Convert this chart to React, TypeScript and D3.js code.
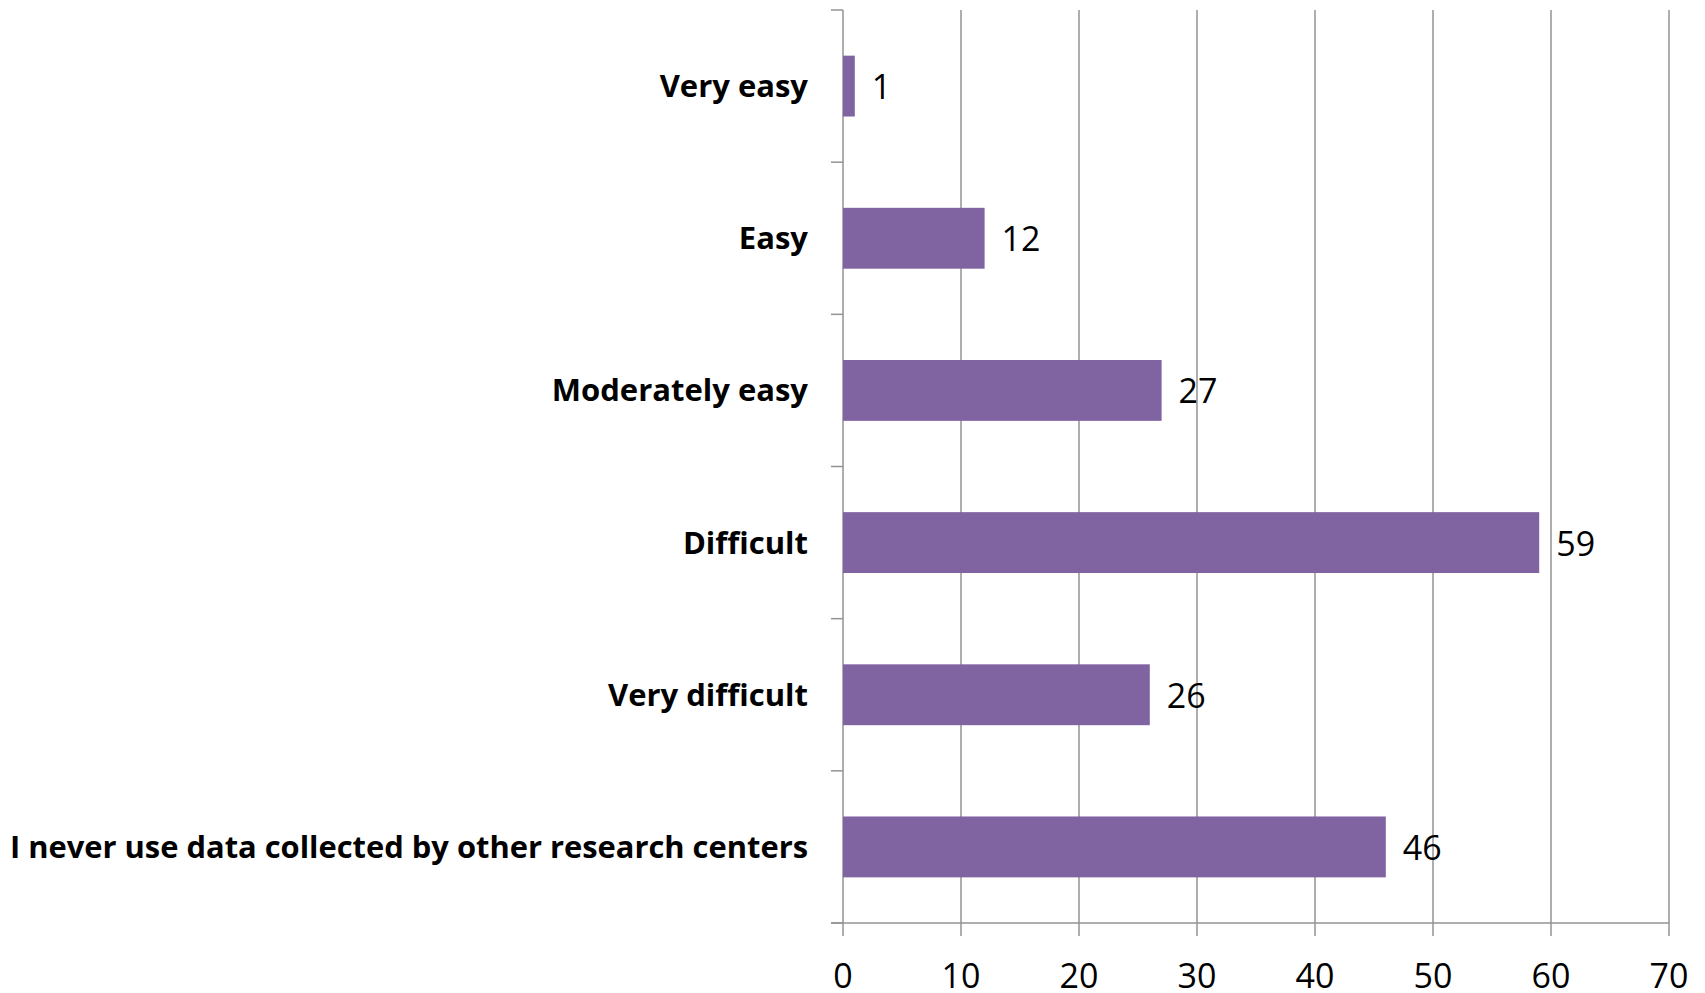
import React from "react";
import * as d3 from "d3";

const categories: string[] = [
  "Very easy",
  "Easy",
  "Moderately easy",
  "Difficult",
  "Very difficult",
  "I never use data collected by other research centers",
];
const values: number[] = [1, 12, 27, 59, 26, 46];
const xTicks: number[] = [0, 10, 20, 30, 40, 50, 60, 70];

const W = 1705;
const H = 993;
const FONT = "'Open Sans', 'Noto Sans', sans-serif";
const GRID = "#939393";
const BAR = "#8064A2";
const LABEL_RIGHT = 808;
const LABEL_MAX = 798;

function CategoryLabel({ text, y }: { text: string; y: number }) {
  const ref = React.useRef<SVGTextElement>(null);
  const [fit, setFit] = React.useState<number | null>(null);
  React.useLayoutEffect(() => {
    if (ref.current) {
      const len = ref.current.getComputedTextLength();
      if (len > LABEL_MAX) setFit(LABEL_MAX);
    }
  }, [text]);
  return (
    <text
      ref={ref}
      x={LABEL_RIGHT}
      y={y}
      textAnchor="end"
      fontFamily={FONT}
      fontWeight="bold"
      fontSize={31}
      fill="#000"
      {...(fit ? { textLength: fit, lengthAdjust: "spacingAndGlyphs" } : {})}
    >
      {text}
    </text>
  );
}

export default function App() {
  const x = d3.scaleLinear().domain([0, 70]).range([843, 1669]);
  const y = d3.scaleBand<string>().domain(categories).range([10, 923]).padding(0);
  const bw = y.bandwidth();
  const barH = bw * 0.4;
  const boundaries = d3.range(categories.length + 1).map((i) => 10 + i * y.step());
  const x0 = x(0);
  const yBottom = 923;

  return (
    <svg
      width={W}
      height={H}
      style={{ position: "absolute", left: 0, top: 0, background: "#fff" }}
    >
      <rect x={0} y={0} width={W} height={H} fill="#fff" />
      {xTicks.map((t) => (
        <line
          key={"g" + t}
          x1={x(t)}
          x2={x(t)}
          y1={10}
          y2={yBottom + 13}
          stroke={GRID}
          strokeWidth={1.5}
        />
      ))}
      <line x1={x0 - 12} x2={x(70)} y1={yBottom} y2={yBottom} stroke={GRID} strokeWidth={1.5} />
      {boundaries.map((b, i) => (
        <line key={"c" + i} x1={x0 - 12} x2={x0} y1={b} y2={b} stroke={GRID} strokeWidth={1.5} />
      ))}
      {categories.map((c, i) => (
        <rect
          key={"b" + c}
          x={x0}
          y={(y(c) as number) + (bw - barH) / 2}
          width={x(values[i]) - x0}
          height={barH}
          fill={BAR}
        />
      ))}
      {categories.map((c, i) => (
        <text
          key={"v" + c}
          x={x(values[i]) + 17}
          y={(y(c) as number) + bw / 2 + 13}
          fontFamily={FONT}
          fontSize={34}
          fill="#000"
        >
          {values[i]}
        </text>
      ))}
      {categories.map((c) => (
        <CategoryLabel key={"l" + c} text={c} y={(y(c) as number) + bw / 2 + 11} />
      ))}
      {xTicks.map((t) => (
        <text
          key={"t" + t}
          x={x(t)}
          y={988}
          textAnchor="middle"
          fontFamily={FONT}
          fontSize={34}
          fill="#000"
        >
          {t}
        </text>
      ))}
    </svg>
  );
}
